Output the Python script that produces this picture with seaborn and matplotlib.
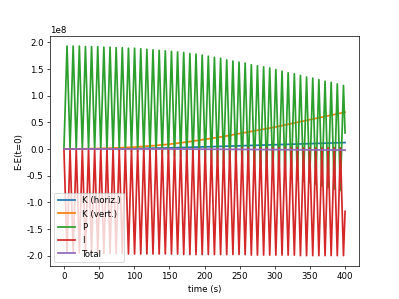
import numpy as np
import pandas as pd
import matplotlib
matplotlib.use("Agg")
import matplotlib.pyplot as plt
import seaborn as sns

# Times of the oscillation extrema (s), alternating trough/peak for P
t_ext = [0.0, 4.4, 8.7, 13.1, 17.5, 21.9, 26.2, 30.6, 35.0, 39.3,
         43.7, 48.1, 52.4, 56.8, 61.2, 65.6, 69.9, 74.3, 78.7, 83.0,
         87.4, 91.8, 96.1, 100.5, 104.9, 109.3, 113.6, 118.0, 122.4, 126.7,
         131.1, 135.5, 139.8, 144.2, 148.6, 153.0, 157.3, 161.7, 166.1, 170.4,
         174.8, 179.2, 183.5, 187.9, 192.3, 196.7, 201.0, 205.4, 209.8, 214.1,
         218.5, 222.9, 227.2, 231.6, 236.0, 240.4, 244.7, 249.1, 253.5, 257.8,
         262.2, 266.6, 270.9, 275.3, 279.7, 284.1, 288.4, 292.8, 297.2, 301.5,
         305.9, 310.3, 314.6, 319.0, 323.4, 327.8, 332.1, 336.5, 340.9, 345.2,
         349.6, 354.0, 358.3, 362.7, 367.1, 371.5, 375.8, 380.2, 384.6, 388.9,
         393.3, 397.7, 400.0]

# P (potential) troughs and peaks, in units of 1e8
P_troughs = [0.00, 0.00, 0.00, 0.00, -0.01, -0.01, -0.01, -0.02, -0.02, -0.03,
             -0.04, -0.04, -0.05, -0.06, -0.07, -0.08, -0.10, -0.11, -0.13, -0.14,
             -0.16, -0.18, -0.20, -0.22, -0.24, -0.26, -0.28, -0.30, -0.32, -0.35,
             -0.37, -0.39, -0.42, -0.44, -0.47, -0.49, -0.52, -0.55, -0.57, -0.60,
             -0.63, -0.66, -0.69, -0.72, -0.75, -0.78]
P_peaks = [1.93, 1.93, 1.93, 1.92, 1.92, 1.92, 1.91, 1.91, 1.90, 1.90,
           1.89, 1.89, 1.88, 1.87, 1.86, 1.85, 1.84, 1.83, 1.82, 1.81,
           1.79, 1.78, 1.76, 1.74, 1.72, 1.70, 1.67, 1.65, 1.63, 1.61,
           1.58, 1.56, 1.54, 1.52, 1.49, 1.46, 1.43, 1.41, 1.38, 1.35,
           1.33, 1.30, 1.27, 1.25, 1.22, 1.19]
P_end = 0.30

# I tops (at P troughs) and bottoms (at P peaks), units of 1e8
I_tops = [0.00, 0.00, 0.00, 0.00, 0.00, 0.00, 0.00, 0.00, 0.00, 0.00,
          0.00, 0.00, 0.00, 0.00, 0.00, 0.01, 0.01, 0.01, 0.01, 0.01,
          0.01, 0.01, 0.01, 0.01, 0.01, 0.01, 0.01, 0.01, 0.01, 0.02,
          0.02, 0.02, 0.02, 0.02, 0.02, 0.02, 0.02, 0.02, 0.02, 0.02,
          0.02, 0.02, 0.02, 0.02, 0.02, 0.02]
I_bottoms = [-1.94, -1.95, -1.95, -1.95, -1.96, -1.96, -1.96, -1.96, -1.96, -1.96,
             -1.97, -1.97, -1.97, -1.97, -1.97, -1.97, -1.97, -1.97, -1.97, -1.98,
             -1.98, -1.98, -1.98, -1.98, -1.98, -1.98, -1.98, -1.98, -1.98, -1.98,
             -1.99, -1.99, -1.99, -1.99, -1.99, -1.99, -1.99, -1.99, -2.00, -2.00,
             -2.00, -2.00, -2.00, -2.00, -2.00, -2.00]
I_end = -1.17

# Smooth kinetic energies and total, sampled every 25 s (units of 1e8)
t_smooth = [0, 25, 50, 75, 100, 125, 150, 175, 200, 225, 250, 275, 300, 325, 350, 375, 400]
K_horiz = [0.0, 0.001, 0.002, 0.005, 0.01, 0.015, 0.02, 0.03, 0.04, 0.05,
           0.06, 0.07, 0.08, 0.09, 0.10, 0.11, 0.12]
K_vert = [0.0, 0.003, 0.01, 0.02, 0.035, 0.06, 0.09, 0.13, 0.18, 0.23,
          0.29, 0.35, 0.41, 0.48, 0.55, 0.62, 0.69]
Total = [0.0, 0.0, 0.0, 0.0, 0.0, 0.0, 0.0, -0.002, -0.004, -0.006,
         -0.008, -0.01, -0.012, -0.014, -0.016, -0.018, -0.02]

scale = 1e8

def interleave(a, b, end):
    out = np.empty(len(a) + len(b))
    out[0::2] = a
    out[1::2] = b
    return np.append(out, end)

P = interleave(P_troughs, P_peaks, P_end) * scale
I = interleave(I_tops, I_bottoms, I_end) * scale
t_ext = np.array(t_ext)
ts = np.array(t_smooth)

plt.rcParams['axes.unicode_minus'] = False
fig, ax = plt.subplots(figsize=(6.4, 4.8), dpi=62.35)
colors = plt.rcParams['axes.prop_cycle'].by_key()['color']
lw = 2.0

sns.lineplot(x=ts, y=np.array(K_horiz) * scale, ax=ax, color=colors[0], label="K (horiz.)", estimator=None, lw=lw)
sns.lineplot(x=ts, y=np.array(K_vert) * scale, ax=ax, color=colors[1], label="K (vert.)", estimator=None, lw=lw)
sns.lineplot(x=t_ext, y=P, ax=ax, color=colors[2], label="P", estimator=None, lw=lw)
sns.lineplot(x=t_ext, y=I, ax=ax, color=colors[3], label="I", estimator=None, lw=lw)
sns.lineplot(x=ts, y=np.array(Total) * scale, ax=ax, color=colors[4], label="Total", estimator=None, lw=lw)

ax.set_xlabel("time (s)")
ax.set_ylabel("E-E(t=0)")
ax.legend(loc="lower left")
fig.savefig("out.png", dpi=62.35)
